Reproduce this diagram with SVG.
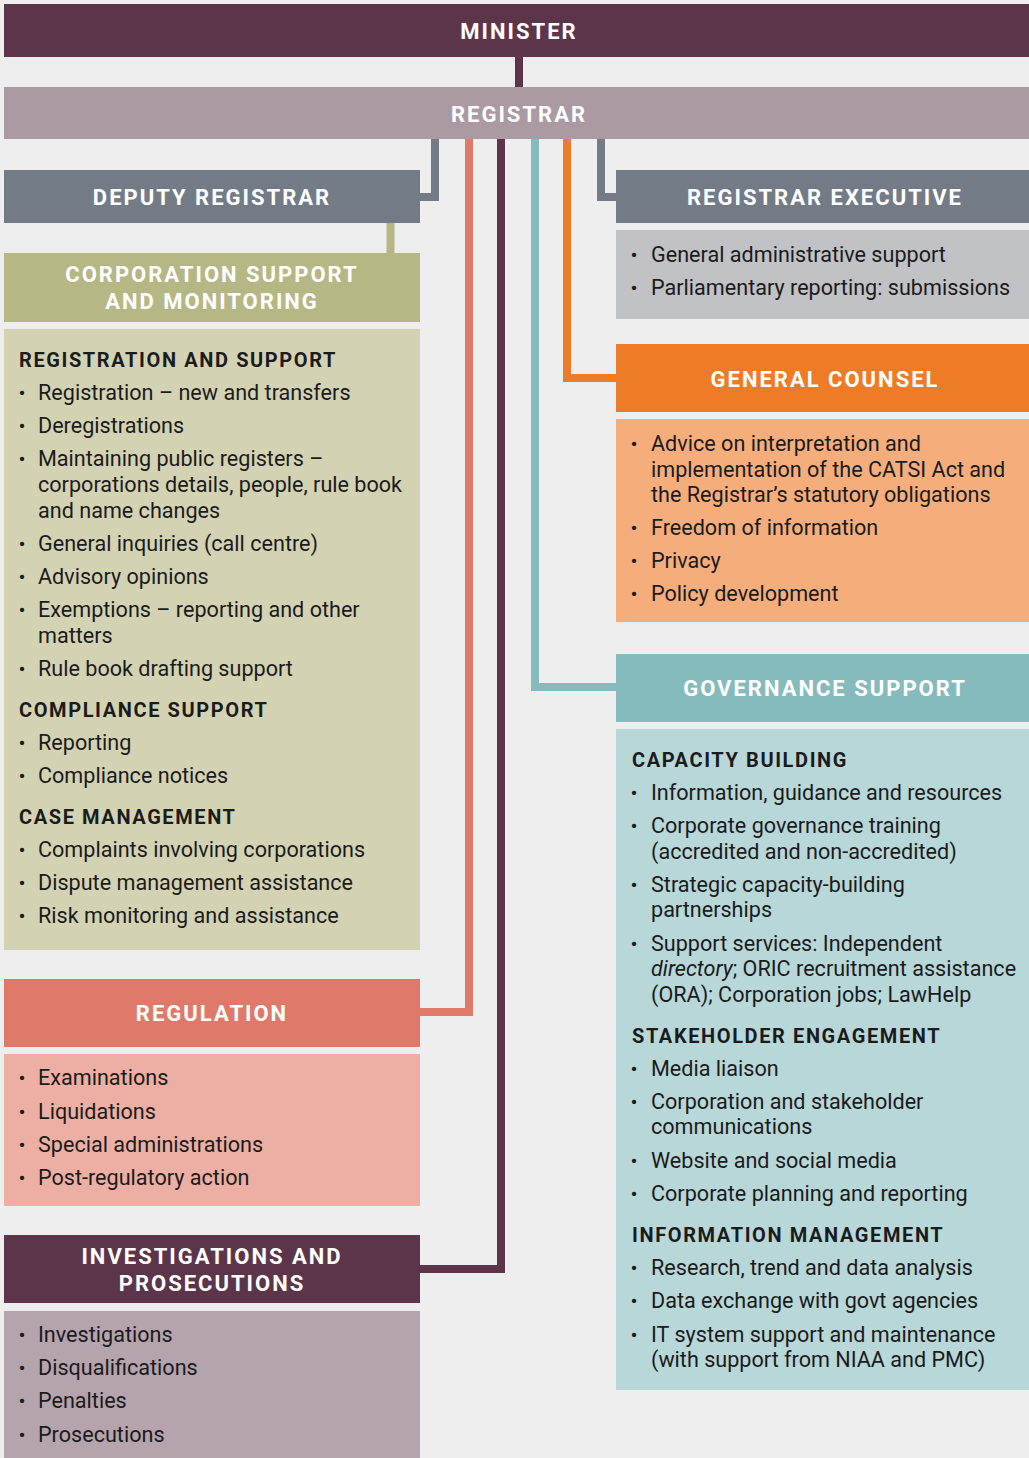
<svg xmlns="http://www.w3.org/2000/svg" width="1029" height="1458" viewBox="0 0 1029 1458">
  <style>
    .hd { font-family: Roboto, "Liberation Sans", sans-serif; font-weight: 700; font-size: 22px; letter-spacing: 2px; fill: #ffffff; text-anchor: middle; }
    .sub { font-family: Roboto, "Liberation Sans", sans-serif; font-weight: 700; font-size: 20px; letter-spacing: 1.6px; fill: #1b1b1b; }
    .tx { font-family: Roboto, "Liberation Sans", sans-serif; font-size: 21.6px; fill: #1b1b1b; }
    .bl { font-family: Roboto, "Liberation Sans", sans-serif; font-size: 21px; fill: #1b1b1b; text-anchor: middle; }
    .ln { fill: none; stroke-width: 8; stroke-linejoin: miter; stroke-linecap: butt; }
  </style>

  <!-- page background -->
  <rect x="0" y="0" width="1029" height="1458" fill="#eeeeee"/>

  <!-- reporting lines -->
  <g id="connectors">
    <path class="ln" stroke="#5c354b" d="M519,57 V87"/>
    <path class="ln" stroke="#737b87" d="M435,139 V197 H420"/>
    <path class="ln" stroke="#b5b785" d="M390.5,223 V253"/>
    <path class="ln" stroke="#e07b6b" d="M469,139 V1012 H420"/>
    <path class="ln" stroke="#5c354b" d="M501,139 V1269 H420"/>
    <path class="ln" stroke="#86bbbe" d="M535,139 V687 H616"/>
    <path class="ln" stroke="#ee7b25" d="M567,139 V378 H616"/>
    <path class="ln" stroke="#737b87" d="M601,139 V197 H616"/>
  </g>

  <g id="minister">
    <rect x="4" y="4" width="1025" height="53" fill="#5c354b"/>
    <text class="hd" x="519" y="38.5">MINISTER</text>
  </g>

  <g id="registrar">
    <rect x="4" y="87" width="1025" height="52" fill="#ab99a3"/>
    <text class="hd" x="519" y="122">REGISTRAR</text>
  </g>

  <g id="deputy-registrar">
    <rect x="4" y="170" width="416" height="53" fill="#737b87"/>
    <text class="hd" x="212" y="205">DEPUTY REGISTRAR</text>
  </g>

  <g id="registrar-executive">
    <rect x="616" y="170" width="413" height="53" fill="#737b87"/>
    <text class="hd" x="825" y="205">REGISTRAR EXECUTIVE</text>
    <rect x="616" y="230" width="413" height="89" fill="#c0c2c6"/>
    <text class="bl" x="634" y="262">•</text><text class="tx" x="651" y="262">General administrative support</text>
    <text class="bl" x="634" y="295">•</text><text class="tx" x="651" y="295">Parliamentary reporting: submissions</text>
  </g>

  <g id="corporation-support">
    <rect x="4" y="253" width="416" height="69" fill="#b5b785"/>
    <text class="hd" x="212" y="282">CORPORATION SUPPORT</text>
    <text class="hd" x="212" y="309">AND MONITORING</text>
    <rect x="4" y="329" width="416" height="621" fill="#d3d3b3"/>
    <text class="sub" x="19" y="367">REGISTRATION AND SUPPORT</text>
    <text class="bl" x="22" y="400">•</text><text class="tx" x="38" y="400">Registration – new and transfers</text>
    <text class="bl" x="22" y="433">•</text><text class="tx" x="38" y="433">Deregistrations</text>
    <text class="bl" x="22" y="466">•</text><text class="tx" x="38" y="466">Maintaining public registers –</text>
    <text class="tx" x="38" y="492">corporations details, people, rule book</text>
    <text class="tx" x="38" y="518">and name changes</text>
    <text class="bl" x="22" y="551">•</text><text class="tx" x="38" y="551">General inquiries (call centre)</text>
    <text class="bl" x="22" y="584">•</text><text class="tx" x="38" y="584">Advisory opinions</text>
    <text class="bl" x="22" y="617">•</text><text class="tx" x="38" y="617">Exemptions – reporting and other</text>
    <text class="tx" x="38" y="643">matters</text>
    <text class="bl" x="22" y="676">•</text><text class="tx" x="38" y="676">Rule book drafting support</text>
    <text class="sub" x="19" y="717">COMPLIANCE SUPPORT</text>
    <text class="bl" x="22" y="750">•</text><text class="tx" x="38" y="750">Reporting</text>
    <text class="bl" x="22" y="783">•</text><text class="tx" x="38" y="783">Compliance notices</text>
    <text class="sub" x="19" y="824">CASE MANAGEMENT</text>
    <text class="bl" x="22" y="857">•</text><text class="tx" x="38" y="857">Complaints involving corporations</text>
    <text class="bl" x="22" y="890">•</text><text class="tx" x="38" y="890">Dispute management assistance</text>
    <text class="bl" x="22" y="923">•</text><text class="tx" x="38" y="923">Risk monitoring and assistance</text>
  </g>

  <g id="general-counsel">
    <rect x="616" y="344" width="413" height="68" fill="#ee7b25"/>
    <text class="hd" x="825" y="387">GENERAL COUNSEL</text>
    <rect x="616" y="419" width="413" height="203" fill="#f5ae7b"/>
    <text class="bl" x="634" y="451">•</text><text class="tx" x="651" y="451">Advice on interpretation and</text>
    <text class="tx" x="651" y="477">implementation of the CATSI Act and</text>
    <text class="tx" x="651" y="502">the Registrar’s statutory obligations</text>
    <text class="bl" x="634" y="535">•</text><text class="tx" x="651" y="535">Freedom of information</text>
    <text class="bl" x="634" y="568">•</text><text class="tx" x="651" y="568">Privacy</text>
    <text class="bl" x="634" y="601">•</text><text class="tx" x="651" y="601">Policy development</text>
  </g>

  <g id="governance-support">
    <rect x="616" y="654" width="413" height="68" fill="#86bbbe"/>
    <text class="hd" x="825" y="696">GOVERNANCE SUPPORT</text>
    <rect x="616" y="729" width="413" height="661" fill="#b8d7d9"/>
    <text class="sub" x="632" y="767">CAPACITY BUILDING</text>
    <text class="bl" x="634" y="800">•</text><text class="tx" x="651" y="800">Information, guidance and resources</text>
    <text class="bl" x="634" y="833">•</text><text class="tx" x="651" y="833">Corporate governance training</text>
    <text class="tx" x="651" y="859">(accredited and non-accredited)</text>
    <text class="bl" x="634" y="892">•</text><text class="tx" x="651" y="892">Strategic capacity-building</text>
    <text class="tx" x="651" y="917">partnerships</text>
    <text class="bl" x="634" y="951">•</text><text class="tx" x="651" y="951">Support services: Independent</text>
    <text class="tx" x="651" y="976"><tspan font-style="italic">directory</tspan>; ORIC recruitment assistance</text>
    <text class="tx" x="651" y="1002">(ORA); Corporation jobs; LawHelp</text>
    <text class="sub" x="632" y="1043">STAKEHOLDER ENGAGEMENT</text>
    <text class="bl" x="634" y="1076">•</text><text class="tx" x="651" y="1076">Media liaison</text>
    <text class="bl" x="634" y="1109">•</text><text class="tx" x="651" y="1109">Corporation and stakeholder</text>
    <text class="tx" x="651" y="1134">communications</text>
    <text class="bl" x="634" y="1168">•</text><text class="tx" x="651" y="1168">Website and social media</text>
    <text class="bl" x="634" y="1201">•</text><text class="tx" x="651" y="1201">Corporate planning and reporting</text>
    <text class="sub" x="632" y="1242">INFORMATION MANAGEMENT</text>
    <text class="bl" x="634" y="1275">•</text><text class="tx" x="651" y="1275">Research, trend and data analysis</text>
    <text class="bl" x="634" y="1308">•</text><text class="tx" x="651" y="1308">Data exchange with govt agencies</text>
    <text class="bl" x="634" y="1342">•</text><text class="tx" x="651" y="1342">IT system support and maintenance</text>
    <text class="tx" x="651" y="1367">(with support from NIAA and PMC)</text>
  </g>

  <g id="regulation">
    <rect x="4" y="979" width="416" height="68" fill="#df7a6a"/>
    <text class="hd" x="212" y="1021">REGULATION</text>
    <rect x="4" y="1054" width="416" height="152" fill="#edafa3"/>
    <text class="bl" x="22" y="1085">•</text><text class="tx" x="38" y="1085">Examinations</text>
    <text class="bl" x="22" y="1119">•</text><text class="tx" x="38" y="1119">Liquidations</text>
    <text class="bl" x="22" y="1152">•</text><text class="tx" x="38" y="1152">Special administrations</text>
    <text class="bl" x="22" y="1185">•</text><text class="tx" x="38" y="1185">Post-regulatory action</text>
  </g>

  <g id="investigations-prosecutions">
    <rect x="4" y="1235" width="416" height="68" fill="#5c354b"/>
    <text class="hd" x="212" y="1264">INVESTIGATIONS AND</text>
    <text class="hd" x="212" y="1291">PROSECUTIONS</text>
    <rect x="4" y="1311" width="416" height="147" fill="#b5a3ad"/>
    <text class="bl" x="22" y="1342">•</text><text class="tx" x="38" y="1342">Investigations</text>
    <text class="bl" x="22" y="1375">•</text><text class="tx" x="38" y="1375">Disqualifications</text>
    <text class="bl" x="22" y="1408">•</text><text class="tx" x="38" y="1408">Penalties</text>
    <text class="bl" x="22" y="1442">•</text><text class="tx" x="38" y="1442">Prosecutions</text>
  </g>
</svg>
